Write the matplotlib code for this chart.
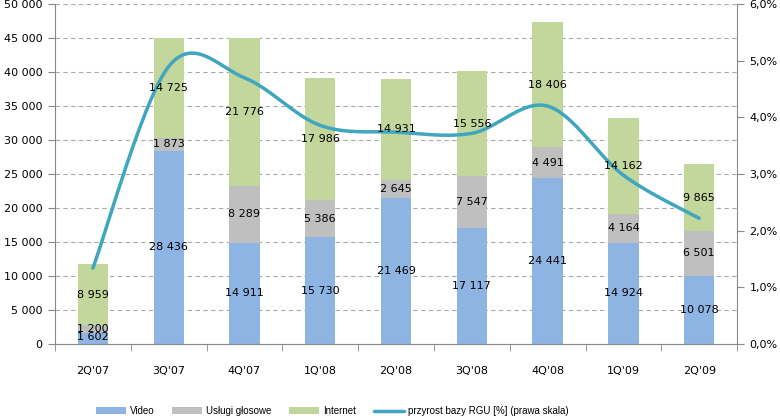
import numpy as np
from matplotlib import pyplot as plt
from matplotlib.ticker import FuncFormatter, FixedLocator

quarters = ["2Q'07", "3Q'07", "4Q'07", "1Q'08", "2Q'08", "3Q'08", "4Q'08", "1Q'09", "2Q'09"]
video = [1602, 28436, 14911, 15730, 21469, 17117, 24441, 14924, 10078]
voice = [1200, 1873, 8289, 5386, 2645, 7547, 4491, 4164, 6501]
internet = [8959, 14725, 21776, 17986, 14931, 15556, 18406, 14162, 9865]
growth = [1.34, 4.9, 4.7, 3.86, 3.74, 3.72, 4.2, 2.98, 2.22]  # %

c_video = "#8eb4e3"
c_voice = "#bfbfbf"
c_net = "#c3d69b"
c_line = "#3ea6bf"


def fmt_thousands(v):
    return "{:,}".format(int(round(v))).replace(",", " ")


def catmull_rom(x, y, n=30):
    # smoothed line like Excel's "smoothed line" option (display only)
    x = np.asarray(x, float)
    y = np.asarray(y, float)
    px = np.concatenate([[x[0]], x, [x[-1]]])
    py = np.concatenate([[y[0]], y, [y[-1]]])
    xs, ys = [], []
    for i in range(1, len(px) - 2):
        p0, p1, p2, p3 = (np.array([px[j], py[j]]) for j in range(i - 1, i + 3))
        t = np.linspace(0, 1, n)[:, None]
        b1 = p1 + (p2 - p0) / 6
        b2 = p2 - (p3 - p1) / 6
        pts = (1 - t) ** 3 * p1 + 3 * (1 - t) ** 2 * t * b1 + 3 * (1 - t) * t ** 2 * b2 + t ** 3 * p2
        xs.extend(pts[:, 0])
        ys.extend(pts[:, 1])
    return np.array(xs), np.array(ys)


plt.rcParams["font.family"] = ["DejaVu Sans"]
fig = plt.figure(figsize=(7.8, 4.18), dpi=100)
ax = fig.add_axes([0.0705, 0.177, 0.8745, 0.813])

ind = np.arange(len(quarters))
width = 0.4
v = np.array(video)
s = np.array(voice)
n = np.array(internet)

b1 = ax.bar(ind, v, width, color=c_video, label="Video", zorder=2)
b2 = ax.bar(ind, s, width, bottom=v, color=c_voice, label="Usługi głosowe", zorder=2)
b3 = ax.bar(ind, n, width, bottom=v + s, color=c_net, label="Internet", zorder=2)

ax.set_ylim(0, 50000)
ax.set_xlim(-0.5, len(quarters) - 0.5)
ax.set_yticks(np.arange(0, 50001, 5000))
ax.yaxis.set_major_formatter(FuncFormatter(lambda val, pos: fmt_thousands(val)))
ax.grid(axis="y", color="#aaaaaa", linestyle=(0, (4, 3)), linewidth=0.8, zorder=0)
ax.set_axisbelow(True)
ax.set_xticks(ind)
ax.set_xticklabels(quarters)
ax.xaxis.set_minor_locator(FixedLocator(np.arange(-0.5, len(quarters), 1)))
ax.tick_params(axis="x", which="major", length=0, pad=16, labelsize=8)
ax.tick_params(axis="x", which="minor", length=5, color="#888888")
ax.tick_params(axis="y", length=5, color="#888888", labelsize=8, pad=4)
for side in ["top", "right"]:
    ax.spines[side].set_visible(False)
for side in ["left", "bottom"]:
    ax.spines[side].set_color("#888888")

ax2 = ax.twinx()
ax2.set_ylim(0, 6)
ax2.set_yticks(np.arange(0, 6.01, 1))
ax2.yaxis.set_major_formatter(FuncFormatter(lambda val, pos: "{:.1f}%".format(val).replace(".", ",")))
ax2.tick_params(axis="y", length=5, color="#888888", labelsize=8, pad=4)
for side in ["top", "left", "bottom"]:
    ax2.spines[side].set_visible(False)
ax2.spines["right"].set_color("#888888")
sx, sy = catmull_rom(ind, growth)
ln, = ax2.plot(sx, sy, color=c_line, linewidth=2.5, solid_capstyle="round",
               label="przyrost bazy RGU [%] (prawa skala)", zorder=4)

# value labels drawn on top of the line
for i in ind:
    ax2.text(i, v[i] / 2 if v[i] > 3000 else v[i] / 2 + 200, fmt_thousands(v[i]),
             ha="center", va="center", fontsize=8, zorder=5, transform=ax.transData)
    ax2.text(i, v[i] + s[i] / 2, fmt_thousands(s[i]), ha="center", va="center", fontsize=8,
             zorder=5, transform=ax.transData)
    ax2.text(i, v[i] + s[i] + n[i] / 2, fmt_thousands(n[i]), ha="center", va="center", fontsize=8,
             zorder=5, transform=ax.transData)

fig.legend([b1, b2, b3, ln], [b1.get_label(), b2.get_label(), b3.get_label(), ln.get_label()],
           loc="lower left", bbox_to_anchor=(0.112, -0.016), ncol=4, frameon=False,
           prop={"family": ["Liberation Sans", "DejaVu Sans"], "size": 7},
           handlelength=3.1, handleheight=0.6, columnspacing=1.8, handletextpad=0.4)

fig.savefig("out.png", dpi=100)
